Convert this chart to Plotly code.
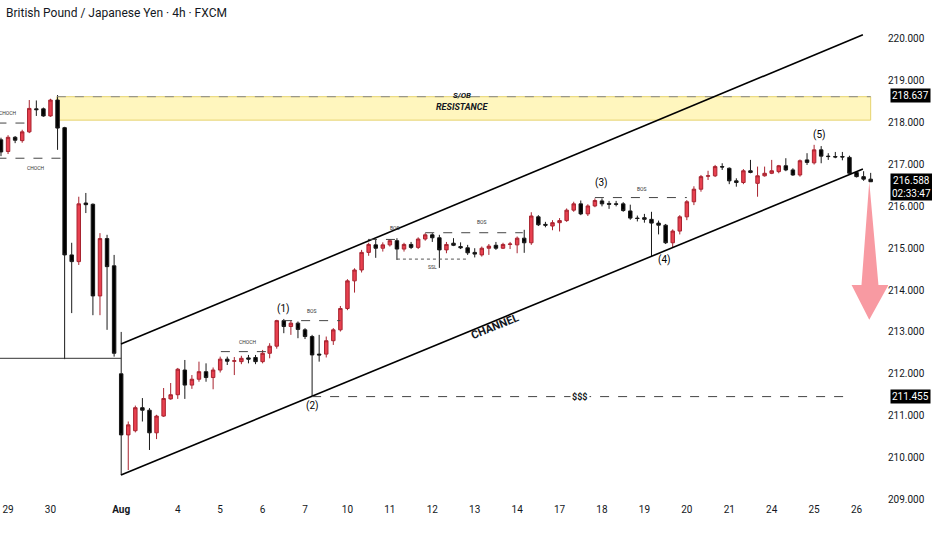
import plotly.graph_objects as go

# 4h candles, index 0..123 (weekend gaps removed)
opens = [217.59, 217.31, 217.65, 217.57, 217.78, 218.33, 218.33, 218.16, 218.54, 217.88,
         214.84, 214.68, 216.08, 216.05, 213.86, 215.23, 214.58, 212.00, 210.54, 210.64,
         211.19, 211.13, 210.59, 210.99, 211.40, 211.50, 212.09, 211.73, 211.87, 212.05,
         211.91, 212.09, 212.35, 212.30, 212.29, 212.38, 212.39, 212.29, 212.49, 212.66,
         213.27, 213.13, 213.21, 213.05, 212.89, 212.47, 212.47, 212.79, 213.05, 213.56,
         214.22, 214.48, 214.90, 215.08, 215.00, 215.08, 215.18, 214.98, 215.09, 215.02,
         215.22, 215.32, 215.25, 214.96, 215.12, 215.04, 215.01, 214.90, 214.84, 215.00,
         215.07, 215.00, 215.09, 215.08, 215.24, 215.13, 215.75, 215.57, 215.53, 215.61,
         215.66, 215.91, 216.06, 215.82, 216.01, 216.13, 216.07, 216.06, 216.06, 215.89,
         215.72, 215.73, 215.69, 215.60, 215.55, 215.13, 215.41, 215.75, 216.11, 216.41,
         216.72, 216.73, 216.95, 216.91, 216.61, 216.57, 216.85, 216.55, 216.73, 216.79,
         216.83, 216.97, 216.87, 216.75, 217.11, 217.04, 217.35, 217.20, 217.19, 217.19,
         217.17, 216.81, 216.71, 216.65]
highs = [217.64, 217.70, 217.68, 217.83, 218.54, 218.53, 218.36, 218.57, 218.66, 217.90,
         215.13, 216.23, 216.32, 216.07, 215.36, 215.32, 214.84, 213.00, 210.86, 211.24,
         211.42, 211.18, 211.02, 211.66, 211.78, 212.14, 212.33, 211.97, 212.29, 212.25,
         212.15, 212.41, 212.41, 212.40, 212.43, 212.45, 212.45, 212.57, 212.73, 213.29,
         213.31, 213.27, 213.25, 213.09, 212.93, 212.93, 212.89, 213.09, 213.62, 214.26,
         214.52, 214.96, 215.13, 215.20, 215.14, 215.22, 215.24, 215.13, 215.15, 215.26,
         215.36, 215.36, 215.32, 215.15, 215.24, 215.14, 215.08, 215.00, 215.04, 215.10,
         215.15, 215.13, 215.15, 215.28, 215.44, 215.86, 215.79, 215.63, 215.67, 215.72,
         215.95, 216.11, 216.14, 216.05, 216.19, 216.19, 216.13, 216.13, 216.10, 216.04,
         215.78, 215.82, 215.87, 215.66, 215.58, 215.45, 215.79, 216.15, 216.48, 216.75,
         216.85, 216.99, 217.03, 216.93, 216.67, 216.89, 217.11, 216.95, 216.95, 217.11,
         216.99, 217.15, 216.91, 217.12, 217.27, 217.47, 217.44, 217.27, 217.30, 217.30,
         217.21, 216.84, 216.84, 216.80]
lows = [217.20, 217.25, 217.51, 217.52, 217.75, 218.16, 218.14, 218.14, 217.35, 212.35,
        213.45, 214.60, 215.84, 213.40, 213.40, 213.05, 212.41, 209.58, 209.70, 210.60,
        210.86, 210.18, 210.44, 210.97, 211.38, 211.40, 211.40, 211.64, 211.81, 211.81,
        211.63, 212.03, 212.21, 211.97, 212.23, 212.25, 212.23, 212.25, 212.37, 212.60,
        212.97, 212.93, 212.85, 212.83, 211.45, 212.29, 212.39, 212.69, 213.01, 213.52,
        213.94, 214.42, 214.82, 214.77, 214.92, 215.04, 214.72, 214.92, 214.98, 214.98,
        215.18, 215.15, 214.53, 214.88, 215.05, 214.98, 214.84, 214.78, 214.80, 214.84,
        214.96, 214.98, 214.98, 214.88, 214.89, 215.08, 215.53, 215.50, 215.43, 215.40,
        215.63, 215.87, 215.79, 215.77, 215.98, 216.00, 215.94, 216.00, 215.87, 215.68,
        215.64, 215.61, 214.81, 215.33, 215.10, 215.02, 215.33, 215.67, 216.03, 216.35,
        216.63, 216.70, 216.87, 216.53, 216.47, 216.53, 216.79, 216.23, 216.71, 216.77,
        216.79, 216.84, 216.73, 216.71, 216.99, 217.00, 217.03, 217.11, 217.15, 217.10,
        216.75, 216.69, 216.61, 216.60]
closes = [217.30, 217.65, 217.58, 217.78, 218.34, 218.31, 218.16, 218.54, 217.87, 214.84,
          214.68, 216.06, 216.04, 213.86, 215.23, 214.56, 212.49, 210.54, 210.78, 211.19,
          211.13, 210.59, 210.99, 211.41, 211.50, 212.11, 211.73, 211.87, 212.05, 211.91,
          212.09, 212.35, 212.30, 212.31, 212.37, 212.35, 212.29, 212.49, 212.66, 213.27,
          213.13, 213.21, 213.06, 212.89, 212.45, 212.45, 212.79, 213.05, 213.56, 214.22,
          214.48, 214.90, 215.09, 215.00, 215.08, 215.18, 214.98, 215.09, 215.02, 215.22,
          215.32, 215.25, 214.96, 215.09, 215.07, 215.01, 214.89, 214.86, 215.00, 215.05,
          215.00, 215.09, 215.10, 215.24, 215.13, 215.77, 215.56, 215.55, 215.61, 215.66,
          215.91, 216.06, 215.82, 216.01, 216.14, 216.06, 216.05, 216.05, 215.90, 215.72,
          215.71, 215.69, 215.60, 215.55, 215.13, 215.41, 215.75, 216.11, 216.41, 216.71,
          216.73, 216.95, 216.94, 216.61, 216.57, 216.85, 216.81, 216.73, 216.79, 216.85,
          216.97, 216.87, 216.75, 217.09, 217.05, 217.35, 217.20, 217.19, 217.18, 217.18,
          216.79, 216.71, 216.65, 216.588]
bars = list(range(len(closes)))

day_ticks = [1, 7, 17, 25, 31, 37, 43, 49, 55, 61, 67, 73, 79, 85, 91, 97, 103, 109, 115, 121]
day_labels = ["29", "30", "<b>Aug</b>", "4", "5", "6", "7", "10", "11", "12", "13", "14",
              "17", "18", "19", "20", "21", "24", "25", "26"]

# drawing levels (bar index / price)
zone_x = [7.9, 123.0]
zone_y = [218.06, 218.62]
upper_channel = [(16.97, 212.71), (121.9, 220.10)]
lower_channel = [(16.97, 209.58), (121.9, 216.89)]
swing_low_level = 212.37
dashed_levels = [  # x0, x1, price, label, label x, label price
    (-0.5, 3.6, 217.99, "CHOCH", 1.0, 218.22),
    (-0.5, 8.6, 217.15, "CHOCH", 5.0, 216.92),
    (31.1, 37.8, 212.53, "CHOCH", 35.0, 212.75),
    (39.9, 48.0, 213.27, "BOS", 44.0, 213.51),
    (51.9, 56.2, 215.21, "BOS", 55.7, 215.48),
    (60.0, 73.8, 215.37, "BOS", 68.0, 215.63),
    (84.0, 97.0, 216.21, "BOS", 90.7, 216.42),
]
ssl_level = (56.0, 66.0, 214.74)
sss_level = (44.0, 119.8, 211.455)
wave_labels = ["(1)", "(2)", "(3)", "(4)", "(5)"]
wave_x = [40.0, 44.0, 85.0, 93.9, 115.8]
wave_y = [213.55, 211.23, 216.55, 214.72, 217.71]
price_tags = [("218.637", 218.637), ("211.455", 211.455)]
last_price = 216.588
arrow_x = [122.8, 124.1, 125.5, 122.8, 120.3, 121.7]
arrow_y = [216.59, 214.12, 214.12, 213.29, 214.12, 214.12]

fig = go.Figure()
fig.add_trace(go.Candlestick(
    x=bars, open=opens, high=highs, low=lows, close=closes,
    increasing=dict(fillcolor="#e8404f", line=dict(color="#a8232f", width=1)),
    decreasing=dict(fillcolor="#000000", line=dict(color="#1a1a1a", width=1)),
    hoverinfo="skip", showlegend=False,
))

shapes = []
annots = []
# supply / order block zone
shapes.append(dict(type="rect", xref="x", yref="y", x0=zone_x[0], x1=zone_x[1],
                   y0=zone_y[0], y1=zone_y[1], fillcolor="rgba(255,236,110,0.45)",
                   line=dict(color="#e6d36e", width=1), layer="below"))
shapes.append(dict(type="line", xref="x", yref="y", x0=zone_x[0], x1=zone_x[1],
                   y0=zone_y[1], y1=zone_y[1], line=dict(color="#888888", width=1, dash="dash")))
annots.append(dict(x=65.2, y=218.66, text="<b><i>S/OB</i></b>", showarrow=False,
                   font=dict(size=8, color="#131722")))
annots.append(dict(x=65.2, y=218.38, text="<b><i>RESISTANCE</i></b>", showarrow=False,
                   font=dict(size=9, color="#131722")))

for (p0, p1) in (upper_channel, lower_channel):
    shapes.append(dict(type="line", xref="x", yref="y", x0=p0[0], y0=p0[1], x1=p1[0], y1=p1[1],
                       line=dict(color="#000000", width=1.6)))
shapes.append(dict(type="line", xref="x", yref="y", x0=-0.5, x1=17, y0=swing_low_level,
                   y1=swing_low_level, line=dict(color="#333333", width=1)))

for x0, x1, lvl, lab, lx, ly in dashed_levels:
    shapes.append(dict(type="line", xref="x", yref="y", x0=x0, x1=x1, y0=lvl, y1=lvl,
                       line=dict(color="#444444", width=1, dash="dash")))
    annots.append(dict(x=lx, y=ly, text=lab, showarrow=False, font=dict(size=5, color="#333333")))

shapes.append(dict(type="line", xref="x", yref="y", x0=ssl_level[0], x1=ssl_level[1],
                   y0=ssl_level[2], y1=ssl_level[2], line=dict(color="#555555", width=1, dash="dot")))
annots.append(dict(x=61.0, y=214.55, text="SSL", showarrow=False, font=dict(size=5, color="#333333")))

shapes.append(dict(type="line", xref="x", yref="y", x0=sss_level[0], x1=sss_level[1],
                   y0=sss_level[2], y1=sss_level[2], line=dict(color="#444444", width=1, dash="dash")))
annots.append(dict(x=81.9, y=sss_level[2], text="<b>$$$</b>", showarrow=False, bgcolor="#ffffff",
                   font=dict(size=9, color="#131722")))

annots.append(dict(x=69.9, y=213.12, text="<b>CHANNEL</b>", showarrow=False, textangle=-22,
                   font=dict(size=11, color="#131722")))

for t, wx, wy in zip(wave_labels, wave_x, wave_y):
    annots.append(dict(x=wx, y=wy, text=t, showarrow=False, font=dict(size=10, color="#000000")))

# bearish projection arrow
path = "M " + " L ".join(f"{ax},{ay}" for ax, ay in zip(arrow_x, arrow_y)) + " Z"
shapes.append(dict(type="path", xref="x", yref="y", path=path,
                   fillcolor="rgba(242,54,69,0.5)", line=dict(width=0)))

# right scale tags
for txt, val in price_tags:
    annots.append(dict(xref="paper", x=1, xanchor="left", xshift=2, y=val, text=txt,
                       showarrow=False, bgcolor="#000000", font=dict(size=10, color="#ffffff"),
                       borderpad=1))
annots.append(dict(xref="paper", x=1, xanchor="left", xshift=2, y=last_price, yanchor="top",
                   yshift=9, text=f"{last_price:.3f}<br>02:33:47", showarrow=False,
                   bgcolor="#000000", font=dict(size=10, color="#ffffff"), borderpad=1))

annots.append(dict(xref="paper", yref="paper", x=0, y=1, xanchor="left", yanchor="top",
                   xshift=4, yshift=-4, text="British Pound / Japanese Yen · 4h · FXCM",
                   showarrow=False, font=dict(size=12, color="#131722")))

fig.update_layout(
    width=932, height=550,
    margin=dict(l=0, r=44, t=0, b=48),
    paper_bgcolor="#ffffff", plot_bgcolor="#ffffff",
    font=dict(family="Roboto, Open Sans, sans-serif", color="#131722"),
    shapes=shapes, annotations=annots,
    hovermode=False, showlegend=False,
)
fig.update_xaxes(range=[-0.14, 125.45], tickvals=day_ticks, ticktext=day_labels,
                 showgrid=False, zeroline=False, showline=False, ticks="",
                 tickfont=dict(size=10), rangeslider=dict(visible=False))
fig.update_yaxes(range=[208.937, 220.93], side="right", tick0=209, dtick=1, tickformat=".3f",
                 showgrid=False, zeroline=False, showline=False, ticks="",
                 tickfont=dict(size=10), ticklabelstandoff=-1)

fig.write_html("out.html", config={"displayModeBar": False},
               post_script="document.body.style.margin='0';")
